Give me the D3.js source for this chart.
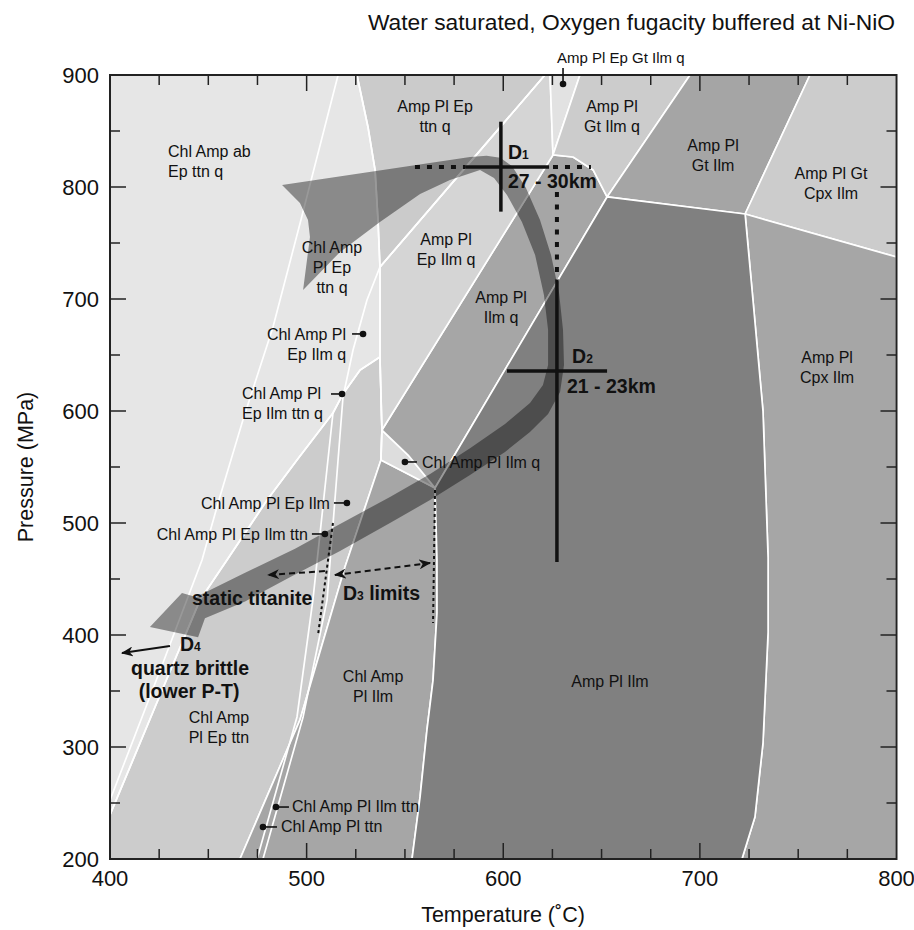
<!DOCTYPE html>
<html><head><meta charset="utf-8">
<script src="https://cdn.jsdelivr.net/npm/d3@7"></script>
<style>
body{margin:0;background:#fff}
svg{display:block}
text{font-family:"Liberation Sans",Arial,Helvetica,sans-serif;fill:#111}
</style>
</head><body>
<svg id="c" width="914" height="930"></svg>
<script>
// ---------------- DATA (Temperature °C, Pressure MPa) ----------------
const tempTicks = [400,500,600,700,800];
const pressTicks = [200,300,400,500,600,700,800,900];

// phase-boundary curves
const curvePlIn   = [[400,239.3],[424.4,342.0],[445.8,431.3],[459.5,467.0],[479.9,520.5],[495.1,556.2],[513.4,598.2],[518.5,615.2],[527.2,636.6],[537.3,648.2]];
const curveC      = [[525.6,900],[531.2,853.6],[534.8,815.2],[536.3,770.5],[537.3,728.6],[537.3,648.2],[538.3,583.0],[537.8,556.2]];
const lineB       = [[516.0,900],[497.1,770.5],[482.9,675.0],[467.6,592.0],[455.4,520.5],[446.8,467.0],[427.5,377.7],[400,252.6]];
const lineTtnOut  = [[621.2,900],[537.3,728.6],[530.7,699.1],[523.6,654.5],[518.5,612.5],[510.4,431.3],[498.2,326.8],[477.8,200]];
const lineQ1      = [[513.4,598.2],[503.2,431.3],[495.1,326.8],[474.8,200]];
const linePl      = [[537.8,556.2],[519.5,460.7],[496.6,324.1],[466.1,200]];
const curveChlOut = [[565.3,531.2],[566.3,467.0],[566.3,419.6],[564.3,359.8],[561.2,315.2],[557.7,255.4],[553.6,200]];
const curveCpxIn  = [[723.0,775.9],[727.0,699.1],[732.1,600.0],[734.7,468.8],[734.7,402.7],[732.1,303.6],[728.0,237.5],[721.4,200]];
const curveGtIn   = [[625.3,828.6],[635.5,826.8],[645.7,815.2],[652.8,791.1]];
const triUpper    = [[538.3,583.0],[551.6,560.7],[565.3,531.2]];
const triLower    = [[537.8,556.2],[551.6,543.8],[565.3,531.2]];
const pJ1=[625.3,828.6], pJ2=[652.8,791.1], pJ3=[723.0,775.9], pJ4=[538.3,583.0], pJ5=[537.8,556.2], pK=[565.3,531.2];

// P-T path (outline of the broad arrow)
const pathOuter = [[487.5,801.8],[583.1,826.8],[591.5,828.0],[598.5,826.2],[604.5,818.5],[611.5,799.3],[618.7,770.5],[624.3,739.3],[628.4,705.4],[630.4,672.3],[630.9,641.1],[628.9,616.9],[622.8,597.3],[613.6,581.3],[600.9,563.4],[583.1,542.9],[562.8,520.5],[542.4,500.0],[517.0,474.9],[491.5,451.6],[468.7,430.0],[448.3,414.9]];
const pathHead  = [[444.8,398.1],[420.3,407.1],[436.6,437.6],[443.7,434.0]];
const pathInner = [[468.7,455.6],[494.1,477.0],[517.0,499.2],[542.4,523.2],[562.8,543.8],[583.1,566.8],[600.9,588.4],[613.6,607.1],[620.2,623.2],[622.8,641.1],[622.8,672.3],[620.7,703.6],[616.2,739.3],[609.5,768.8],[601.9,792.9],[595.3,808.0],[588.2,815.2]];
const pathTail  = [[572.9,806.3],[557.7,793.8],[537.3,768.8],[517.0,742.0],[498.2,708.0],[501.7,755.4],[500.7,770.5],[496.6,785.7]];

// deformation markers
const d1H = {p:817.9, t0:580.6, t1:623.3, dotL:555.1, dotR:644.6};
const d1V = {t:598.8, p0:778.0, p1:858.3};
const d2V = {t:627.3, p0:465.2, p1:717.0, dotTop:795.5};
const d2H = {p:635.7, t0:601.9, t1:652.8};
const ttnLimit = [[513.4,500],[505.8,400]];
const d3Limit  = [[565.3,529.5],[564.3,410.7]];
const arrowStatic = [[509.3,457.1],[480.4,453.6]];
const arrowD3     = [[514.4,453.6],[562.8,464.3]];
const arrowD4     = [[430.5,390.2],[406.1,383.9]];

const fieldLabels = [
 {lines:["Chl Amp ab","Ep ttn q"], t:429.5, p:826.8, anchor:"start"},
 {lines:["Chl Amp","Pl Ep","ttn q"], t:512.9, p:741.1},
 {lines:["Amp Pl Ep","ttn q"], t:565.3, p:867.0},
 {lines:["Amp Pl","Gt Ilm q"], t:655.3, p:867.0},
 {lines:["Amp Pl","Gt Ilm"], t:706.7, p:832.1},
 {lines:["Amp Pl Gt","Cpx Ilm"], t:766.7, p:807.1},
 {lines:["Amp Pl","Ep Ilm q"], t:570.9, p:748.2},
 {lines:["Amp Pl","Ilm q"], t:598.9, p:696.4},
 {lines:["Amp Pl","Cpx Ilm"], t:764.7, p:642.9},
 {lines:["Amp Pl Ilm"], t:654.3, p:353.6},
 {lines:["Chl Amp","Pl Ilm"], t:533.8, p:358.0},
 {lines:["Chl Amp","Pl Ep ttn"], t:455.4, p:321.4}
];
const pointerLabels = [
 {lines:["Chl Amp Pl","Ep Ilm q"], t:528.7, p:668.8, anchor:"end", dx:-17, dy:6, lead:-11},
 {lines:["Chl Amp Pl","Ep Ilm ttn q"], t:518.0, p:615.2, anchor:"start", dx:-100, dy:5, lead:-11},
 {lines:["Chl Amp Pl Ep Ilm"], t:520.5, p:517.9, anchor:"end", dx:-17, dy:6, lead:-13},
 {lines:["Chl Amp Pl Ep Ilm ttn"], t:509.3, p:490.2, anchor:"end", dx:-17, dy:6, lead:-13},
 {lines:["Chl Amp Pl Ilm q"], t:550.0, p:554.5, anchor:"start", dx:17, dy:6, lead:12},
 {lines:["Chl Amp Pl Ilm ttn"], t:484.4, p:246.4, anchor:"start", dx:16, dy:5, lead:13},
 {lines:["Chl Amp Pl ttn"], t:477.8, p:228.6, anchor:"start", dx:18, dy:5, lead:14}
];
const topPointer = {text:"Amp Pl Ep Gt Ilm q", t:630.4, p:892.0};

// ---------------- CHART ----------------
const svg = d3.select("#c");
const x = d3.scaleLinear().domain([400,800]).range([110,896.5]);
const y = d3.scaleLinear().domain([200,900]).range([859,75]);
const line = d3.line().x(d=>x(d[0])).y(d=>y(d[1]));
const rev = a => a.slice().reverse();

const defs = svg.append("defs");
defs.append("clipPath").attr("id","clip").append("rect")
  .attr("x",x(400)).attr("y",y(900)).attr("width",x(800)-x(400)).attr("height",y(200)-y(900));
defs.append("marker").attr("id","stealth").attr("viewBox","0 0 12 10")
  .attr("refX",11).attr("refY",5).attr("markerWidth",12).attr("markerHeight",10)
  .attr("markerUnits","userSpaceOnUse").attr("orient","auto-start-reverse")
  .append("path").attr("d","M0,0 L12,5 L0,10 L3.5,5 Z").attr("fill","#111");

const plot = svg.append("g").attr("clip-path","url(#clip)");
plot.append("rect").attr("x",x(400)).attr("y",y(900)).attr("width",x(800)-x(400)).attr("height",y(200)-y(900)).attr("fill","#e6e6e6");

const fields = [
 {fill:"#cccccc", pts:[...curvePlIn, pJ4, pJ5, ...linePl.slice(1), [400,200]]},
 {fill:"#a6a6a6", pts:[...triLower, ...curveChlOut.slice(1), ...rev(linePl).slice(0,-1)]},
 {fill:"#dddddd", pts:[...triUpper, ...rev(triLower).slice(1,-1), pJ5]},
 {fill:"#a6a6a6", pts:[pJ4, ...curveGtIn, pK, [551.6,560.7]]},
 {fill:"#d5d5d5", pts:[[537.3,728.6],[621.2,900],[623.8,900],pJ1,pJ4,[537.3,648.2]]},
 {fill:"#cbcbcb", pts:[[525.6,900],[621.2,900],[537.3,728.6],[536.3,770.5],[534.8,815.2],[531.2,853.6]]},
 {fill:"#e2e2e2", pts:[[623.8,900],[639.0,900],pJ1]},
 {fill:"#cccccc", pts:[[639.0,900],[695.0,900],pJ2,...rev(curveGtIn).slice(1)]},
 {fill:"#a5a5a5", pts:[[695.0,900],[756.0,900],pJ3,pJ2]},
 {fill:"#cccccc", pts:[[756.0,900],[800,900],[800,737.5],pJ3]},
 {fill:"#a6a6a6", pts:[pJ3,[800,737.5],[800,200],...rev(curveCpxIn).slice(0,-1)]},
 {fill:"#808080", pts:[pJ2, ...curveCpxIn, ...rev(curveChlOut)]}
];
plot.selectAll("path.field").data(fields).join("path").attr("class","field")
  .attr("d",d=>line(d.pts)+"Z").attr("fill",d=>d.fill)
  .attr("stroke","#fff").attr("stroke-width",1.7).attr("stroke-linejoin","round");

[lineB, lineTtnOut, lineQ1, curvePlIn, curveC].forEach(l=>{
  plot.append("path").attr("d",line(l)).attr("fill","none").attr("stroke","#fff").attr("stroke-width",1.7);
});

// P-T path band
plot.append("path").attr("d",line([...pathOuter,...pathHead,...pathInner,...pathTail])+"Z")
  .attr("fill","#000").attr("fill-opacity",0.4);

// dotted extensions
const dotted = (pts,w,dash)=>svg.append("path").attr("d",line(pts)).attr("fill","none")
  .attr("stroke","#111").attr("stroke-width",w).attr("stroke-dasharray",dash);
dotted([[d1H.dotL,d1H.p],[d1H.t0,d1H.p]],4,"5,7");
dotted([[d1H.t1+2,d1H.p],[d1H.dotR,d1H.p]],4,"5,7");
dotted([[d2V.t,d2V.dotTop],[d2V.t,d2V.p1]],4,"5,7.5");
dotted(ttnLimit,2,"3,3");
dotted(d3Limit,2,"3,3");

// crosshairs
const solid = (pts,w)=>svg.append("path").attr("d",line(pts)).attr("fill","none").attr("stroke","#111").attr("stroke-width",w);
solid([[d1H.t0,d1H.p],[d1H.t1,d1H.p]],3.5);
solid([[d1V.t,d1V.p0],[d1V.t,d1V.p1]],3.5);
solid([[d2V.t,d2V.p0],[d2V.t,d2V.p1]],3.5);
solid([[d2H.t0,d2H.p],[d2H.t1,d2H.p]],3.5);

// arrows
svg.append("path").attr("d",line(arrowStatic)).attr("fill","none").attr("stroke","#111").attr("stroke-width",2)
  .attr("stroke-dasharray","6,4").attr("marker-end","url(#stealth)");
svg.append("path").attr("d",line(arrowD3)).attr("fill","none").attr("stroke","#111").attr("stroke-width",2)
  .attr("stroke-dasharray","6,4").attr("marker-end","url(#stealth)").attr("marker-start","url(#stealth)");
svg.append("path").attr("d",line(arrowD4)).attr("fill","none").attr("stroke","#111").attr("stroke-width",2)
  .attr("marker-end","url(#stealth)");

// frame & ticks
svg.append("rect").attr("x",x(400)).attr("y",y(900)).attr("width",x(800)-x(400)).attr("height",y(200)-y(900))
  .attr("fill","none").attr("stroke","#222").attr("stroke-width",2);
const tk = svg.append("g").attr("stroke","#222").attr("stroke-width",1.5);
d3.range(425,800,25).forEach(t=>{
  const L = t%100===0?16:10;
  tk.append("line").attr("x1",x(t)).attr("x2",x(t)).attr("y1",y(200)).attr("y2",y(200)-L);
  tk.append("line").attr("x1",x(t)).attr("x2",x(t)).attr("y1",y(900)).attr("y2",y(900)+L);
});
d3.range(250,900,50).forEach(p=>{
  const L = p%100===0?16:10;
  tk.append("line").attr("y1",y(p)).attr("y2",y(p)).attr("x1",x(400)).attr("x2",x(400)+L);
  tk.append("line").attr("y1",y(p)).attr("y2",y(p)).attr("x1",x(800)).attr("x2",x(800)-L);
});
svg.selectAll("text.xt").data(tempTicks).join("text").attr("class","xt")
  .attr("x",d=>x(d)).attr("y",886).attr("text-anchor","middle").attr("font-size",22).text(d=>d);
svg.selectAll("text.yt").data(pressTicks).join("text").attr("class","yt")
  .attr("x",99).attr("y",d=>y(d)).attr("dy","0.36em").attr("text-anchor","end").attr("font-size",22).text(d=>d);
svg.append("text").attr("x",503).attr("y",922).attr("text-anchor","middle").attr("font-size",21.5).text("Temperature (˚C)");
svg.append("text").attr("transform","translate(33,467) rotate(-90)").attr("text-anchor","middle").attr("font-size",21.5).text("Pressure (MPa)");
svg.append("text").attr("x",895).attr("y",30).attr("text-anchor","end").attr("font-size",22.8).text("Water saturated, Oxygen fugacity buffered at Ni-NiO");

// field labels
fieldLabels.forEach(f=>{
  const t = svg.append("text").attr("font-size",16).attr("text-anchor",f.anchor||"middle");
  f.lines.forEach((s,i)=>t.append("tspan").attr("x",x(f.t)).attr("y",y(f.p)+i*20).text(s));
});
// pointer labels
pointerLabels.forEach(f=>{
  const px=x(f.t), py=y(f.p);
  svg.append("circle").attr("cx",px).attr("cy",py).attr("r",3.3).attr("fill","#111");
  svg.append("line").attr("x1",px).attr("x2",px+f.lead).attr("y1",py).attr("y2",py).attr("stroke","#111").attr("stroke-width",1.6);
  const t = svg.append("text").attr("font-size",16).attr("text-anchor",f.anchor);
  f.lines.forEach((s,i)=>t.append("tspan").attr("x",px+f.dx).attr("y",py+f.dy+i*20).text(s));
});
{
  const px=x(topPointer.t), py=y(topPointer.p);
  svg.append("circle").attr("cx",px).attr("cy",py).attr("r",3.3).attr("fill","#111");
  svg.append("line").attr("x1",px).attr("x2",px).attr("y1",py).attr("y2",py-16).attr("stroke","#111").attr("stroke-width",1.6);
  svg.append("text").attr("x",px-6).attr("y",63).attr("font-size",15).text(topPointer.text);
}

// bold annotations
const bold = (t,p,parts,anchor)=>{
  const el = svg.append("text").attr("x",x(t)).attr("y",y(p)).attr("font-size",19.5).attr("font-weight","bold").attr("text-anchor",anchor||"start");
  parts.forEach(pt=>el.append("tspan").attr("font-size",pt[1]||19.5).text(pt[0]));
};
bold(602.4,825.0,[["D"],["1",12]]);
bold(602.4,799.1,[["27 - 30km"]]);
bold(635.0,642.9,[["D"],["2",12]]);
bold(632.4,616.1,[["21 - 23km"]]);
bold(518.5,431.3,[["D"],["3",12],[" limits"]]);
bold(441.7,426.8,[["static titanite"]]);
bold(435.6,385.7,[["D"],["4",12]]);
bold(440.7,364.3,[["quartz brittle"]],"middle");
bold(440.2,343.8,[["(lower P-T)"]],"middle");
</script>
</body></html>
